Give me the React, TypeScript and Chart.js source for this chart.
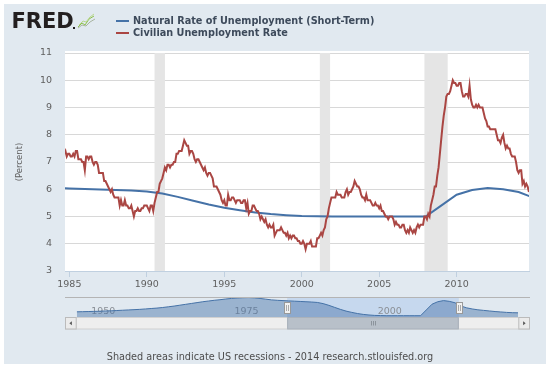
import React, { useEffect, useRef } from "react";
import { Chart, registerables } from "chart.js";

Chart.register(...registerables);
Chart.defaults.font.family = "'DejaVu Sans', Verdana, sans-serif";

// ---- data ----
const seriesNames = ["Natural Rate of Unemployment (Short-Term)", "Civilian Unemployment Rate"];
const seriesColors = ["#4572A7", "#AA4643"];

// Civilian unemployment rate, monthly, starting Sep 1984
const civilianStartYear = 1984;
const civilianStartMonth = 9;
const civilianUnemploymentRate = [
  7.3, 7.4, 7.2, 7.3,
  7.3, 7.2, 7.2, 7.3, 7.2, 7.4, 7.4, 7.1, 7.1, 7.1, 7.0, 7.0,
  6.7, 7.2, 7.2, 7.1, 7.2, 7.2, 7.0, 6.9, 7.0, 7.0, 6.9, 6.6,
  6.6, 6.6, 6.6, 6.3, 6.3, 6.2, 6.1, 6.0, 5.9, 6.0, 5.8, 5.7,
  5.7, 5.7, 5.7, 5.4, 5.6, 5.4, 5.4, 5.6, 5.4, 5.4, 5.3, 5.3,
  5.4, 5.2, 5.0, 5.2, 5.2, 5.3, 5.2, 5.2, 5.3, 5.3, 5.4, 5.4,
  5.4, 5.3, 5.2, 5.4, 5.4, 5.2, 5.5, 5.7, 5.9, 5.9, 6.2, 6.3,
  6.4, 6.6, 6.8, 6.7, 6.9, 6.9, 6.8, 6.9, 6.9, 7.0, 7.0, 7.3,
  7.3, 7.4, 7.4, 7.4, 7.6, 7.8, 7.7, 7.6, 7.6, 7.3, 7.4, 7.4,
  7.3, 7.1, 7.0, 7.1, 7.1, 7.0, 6.9, 6.8, 6.7, 6.8, 6.6, 6.5,
  6.6, 6.6, 6.5, 6.4, 6.1, 6.1, 6.1, 6.0, 5.9, 5.8, 5.6, 5.5,
  5.6, 5.4, 5.4, 5.8, 5.6, 5.6, 5.7, 5.7, 5.6, 5.5, 5.6, 5.6,
  5.6, 5.5, 5.5, 5.6, 5.6, 5.3, 5.5, 5.1, 5.2, 5.2, 5.4, 5.4,
  5.3, 5.2, 5.2, 5.1, 4.9, 5.0, 4.9, 4.8, 4.9, 4.7, 4.6, 4.7,
  4.6, 4.6, 4.7, 4.3, 4.4, 4.5, 4.5, 4.5, 4.6, 4.5, 4.4, 4.4,
  4.3, 4.4, 4.2, 4.3, 4.2, 4.3, 4.3, 4.2, 4.2, 4.1, 4.1, 4.0,
  4.0, 4.1, 4.0, 3.8, 4.0, 4.0, 4.0, 4.1, 3.9, 3.9, 3.9, 3.9,
  4.2, 4.2, 4.3, 4.4, 4.3, 4.5, 4.6, 4.9, 5.0, 5.3, 5.5, 5.7,
  5.7, 5.7, 5.7, 5.9, 5.8, 5.8, 5.8, 5.7, 5.7, 5.7, 5.9, 6.0,
  5.8, 5.9, 5.9, 6.0, 6.1, 6.3, 6.2, 6.1, 6.1, 6.0, 5.8, 5.7,
  5.7, 5.6, 5.8, 5.6, 5.6, 5.6, 5.5, 5.4, 5.4, 5.5, 5.4, 5.4,
  5.3, 5.4, 5.2, 5.2, 5.1, 5.0, 5.0, 4.9, 5.0, 5.0, 5.0, 4.9,
  4.7, 4.8, 4.7, 4.7, 4.6, 4.6, 4.7, 4.7, 4.5, 4.4, 4.5, 4.4,
  4.6, 4.5, 4.4, 4.5, 4.4, 4.6, 4.7, 4.6, 4.7, 4.7, 4.7, 5.0,
  5.0, 4.9, 5.1, 5.0, 5.4, 5.6, 5.8, 6.1, 6.1, 6.5, 6.8, 7.3,
  7.8, 8.3, 8.7, 9.0, 9.4, 9.5, 9.5, 9.6, 9.8, 10.0, 9.9, 9.9,
  9.8, 9.8, 9.9, 9.9, 9.6, 9.4, 9.4, 9.5, 9.5, 9.4, 9.8, 9.3,
  9.1, 9.0, 9.0, 9.1, 9.0, 9.1, 9.0, 9.0, 9.0, 8.8, 8.6, 8.5,
  8.3, 8.3, 8.2, 8.2, 8.2, 8.2, 8.2, 8.0, 7.8, 7.8, 7.7, 7.9,
  8.0, 7.7, 7.5, 7.6, 7.5, 7.5, 7.3, 7.2, 7.2, 7.2, 7.0, 6.7,
  6.6, 6.7, 6.7, 6.2, 6.3, 6.1, 6.2, 6.1, 5.9,
];

// Natural rate of unemployment (short-term), annual, starting 1948
const naturalStartYear = 1948;
const naturalRate = [
  5.27, 5.28, 5.29, 5.30, 5.31, 5.33, 5.34, 5.36, 5.38, 5.40, 5.42, 5.44,
  5.47, 5.50, 5.53, 5.57, 5.62, 5.67, 5.73, 5.79, 5.85, 5.91, 5.97, 6.02,
  6.07, 6.11, 6.16, 6.20, 6.23, 6.25, 6.26, 6.24, 6.20, 6.15, 6.10, 6.07,
  6.05, 6.03, 6.01, 5.99, 5.97, 5.95, 5.92, 5.84, 5.72, 5.58, 5.44, 5.32,
  5.23, 5.15, 5.09, 5.05, 5.02, 5.01, 5.00, 5.00, 5.00, 5.00, 5.00, 5.00,
  5.00, 5.40, 5.80, 5.97, 6.05, 6.00, 5.90, 5.68, 5.55, 5.47, 5.41, 5.37,
  5.33, 5.29, 5.26, 5.23, 5.21, 5.20,
];

const recessions: [number, number][] = [
  [1990.5, 1991.17],
  [2001.17, 2001.83],
  [2007.92, 2009.42],
];
const yearTicks = [1985, 1990, 1995, 2000, 2005, 2010];
const navYearLabels = [1950, 1975, 2000];
const viewStart = 1984.72;
const viewEnd = 2014.67;
const percentMin = 3;
const percentMax = 11;
const navMin = 1948;
const navMax = 2025;
const navRateMin = 4.91;
const navRateMax = 6.3;
const footerText = "Shaded areas indicate US recessions - 2014 research.stlouisfed.org";

const civilianPoints = civilianUnemploymentRate.map((v, i) => ({
  x: civilianStartYear + (civilianStartMonth - 1 + i) / 12,
  y: v,
}));
const naturalPoints = naturalRate.map((v, i) => ({ x: naturalStartYear + i, y: v }));

const PANEL = "#e1e9f0";

const shadePlugin = {
  id: "shade",
  beforeDatasetsDraw(chart: any) {
    const { ctx, chartArea, scales } = chart;
    ctx.save();
    ctx.fillStyle = "#e5e5e5";
    for (const [a, b] of recessions) {
      const x1 = scales.x.getPixelForValue(a);
      const x2 = scales.x.getPixelForValue(b);
      ctx.fillRect(x1, chartArea.top, x2 - x1, chartArea.bottom - chartArea.top);
    }
    ctx.restore();
  },
  beforeDraw(chart: any) {
    const { ctx, chartArea } = chart;
    ctx.save();
    ctx.fillStyle = "#ffffff";
    ctx.fillRect(chartArea.left, chartArea.top - 2, chartArea.right - chartArea.left, chartArea.bottom - chartArea.top + 2);
    ctx.restore();
  },
};

const navPlugin = {
  id: "nav",
  beforeDatasetsDraw(chart: any) {
    const { ctx, chartArea, scales } = chart;
    const x1 = scales.x.getPixelForValue(viewStart);
    const x2 = scales.x.getPixelForValue(viewEnd);
    ctx.save();
    ctx.fillStyle = "#c6d8ee";
    ctx.fillRect(x1, chartArea.top, x2 - x1, chartArea.bottom - chartArea.top);
    ctx.font = "9.5px 'DejaVu Sans'";
    ctx.fillStyle = "#8a8f96";
    ctx.textBaseline = "alphabetic";
    ctx.textAlign = "left";
    for (const y of navYearLabels) {
      ctx.fillText(String(y), scales.x.getPixelForValue(y) + 3, chartArea.bottom - 3.5);
    }
    ctx.restore();
  },
  afterDatasetsDraw(chart: any) {
    const { ctx, chartArea, scales } = chart;
    const x1 = scales.x.getPixelForValue(viewStart);
    const x2 = scales.x.getPixelForValue(viewEnd);
    const left = 65;
    const right = 530;
    const top = chartArea.top;
    const bottom = chartArea.bottom;
    ctx.save();
    // outline
    ctx.strokeStyle = "#b4b4b4";
    ctx.lineWidth = 1;
    ctx.beginPath();
    ctx.moveTo(left, top + 0.5);
    ctx.lineTo(right, top + 0.5);
    ctx.stroke();
    // scrollbar track
    const sy = bottom + 0.5;
    const sh = 11.5;
    ctx.fillStyle = "#eeeeee";
    ctx.fillRect(left, sy, right - left, sh);
    ctx.strokeStyle = "#d0d0d0";
    ctx.strokeRect(left + 0.5, sy, right - left - 1, sh);
    // thumb
    ctx.fillStyle = "#b8c0c9";
    ctx.fillRect(x1, sy, x2 - x1, sh);
    ctx.strokeStyle = "#a9b1ba";
    ctx.strokeRect(x1 + 0.5, sy, x2 - x1 - 1, sh);
    ctx.strokeStyle = "#8c949c";
    const cx = (x1 + x2) / 2;
    for (const d of [-2, 0, 2]) {
      ctx.beginPath();
      ctx.moveTo(Math.round(cx + d) + 0.5, sy + 3.5);
      ctx.lineTo(Math.round(cx + d) + 0.5, sy + 8);
      ctx.stroke();
    }
    // buttons
    const bw = 11.7;
    for (const [bx, dir] of [[left, -1], [right - bw, 1]] as [number, number][]) {
      ctx.fillStyle = "#ebebeb";
      ctx.fillRect(bx, sy, bw, sh);
      ctx.strokeStyle = "#bbbbbb";
      ctx.strokeRect(bx + 0.5, sy, bw - 1, sh);
      ctx.fillStyle = "#555555";
      const mx = bx + bw / 2;
      const my = sy + sh / 2;
      ctx.beginPath();
      ctx.moveTo(mx + dir * 1.5, my);
      ctx.lineTo(mx - dir * 1, my - 2);
      ctx.lineTo(mx - dir * 1, my + 2);
      ctx.closePath();
      ctx.fill();
    }
    // handles
    for (const hx of [x1, x2]) {
      const hxr = Math.round(hx);
      ctx.fillStyle = "#f2f2f2";
      ctx.fillRect(hxr - 3, top + 5.5, 6, 11);
      ctx.strokeStyle = "#999999";
      ctx.strokeRect(hxr - 2.5, top + 5.5, 6, 11);
      ctx.beginPath();
      ctx.moveTo(hxr - 0.5, top + 8);
      ctx.lineTo(hxr - 0.5, top + 14);
      ctx.moveTo(hxr + 1.5, top + 8);
      ctx.lineTo(hxr + 1.5, top + 14);
      ctx.strokeStyle = "#aaaaaa";
      ctx.stroke();
    }
    ctx.restore();
  },
};

export default function App() {
  const mainRef = useRef<HTMLCanvasElement>(null);
  const navRef = useRef<HTMLCanvasElement>(null);

  useEffect(() => {
    const main = new Chart(mainRef.current as HTMLCanvasElement, {
      type: "line",
      data: {
        datasets: [
          {
            label: seriesNames[0],
            data: naturalPoints,
            borderColor: seriesColors[0],
            borderWidth: 2,
            pointRadius: 0,
            fill: false,
            order: 1,
          },
          {
            label: seriesNames[1],
            data: civilianPoints,
            borderColor: seriesColors[1],
            borderWidth: 2,
            pointRadius: 0,
            fill: false,
            order: 0,
          },
        ],
      },
      options: {
        animation: false,
        responsive: false,
        maintainAspectRatio: false,
        layout: { padding: { top: 53, right: 21, left: 0, bottom: 0 } },
        plugins: { legend: { display: false }, tooltip: { enabled: false } },
        scales: {
          x: {
            type: "linear",
            min: viewStart,
            max: viewEnd,
            afterBuildTicks: (axis: any) => {
              axis.ticks = yearTicks.map((v) => ({ value: v }));
            },
            afterFit: (s: any) => {
              s.height = 29;
            },
            grid: { drawOnChartArea: false, drawTicks: true, tickLength: 6, color: "#c0d0e0" },
            border: { display: true, color: "#c0d0e0" },
            ticks: {
              color: "#606060",
              font: { size: 9.5 },
              padding: 2,
              maxRotation: 0,
              autoSkip: false,
              callback: (v: any) => String(v),
            },
          },
          y: {
            min: percentMin,
            max: percentMax,
            afterFit: (s: any) => {
              s.width = 65;
            },
            ticks: { stepSize: 1, color: "#606060", font: { size: 9.5 }, padding: 13 },
            grid: { color: "#d8d8d8", drawTicks: false },
            border: { display: false },
            title: {
              display: true,
              text: "(Percent)",
              color: "#606060",
              font: { size: 8.5 },
              padding: { top: 14.6, bottom: 0 },
            },
          },
        },
      } as any,
      plugins: [shadePlugin],
    });

    const nav = new Chart(navRef.current as HTMLCanvasElement, {
      type: "line",
      data: {
        datasets: [
          {
            data: naturalPoints,
            borderColor: seriesColors[0],
            borderWidth: 1,
            backgroundColor: "rgba(69,114,167,0.45)",
            fill: "start",
            pointRadius: 0,
          },
        ],
      },
      options: {
        animation: false,
        responsive: false,
        maintainAspectRatio: false,
        layout: { padding: { left: 76.7, right: 32, top: 7, bottom: 18 } },
        plugins: { legend: { display: false }, tooltip: { enabled: false } },
        scales: {
          x: { type: "linear", display: false, min: navMin, max: navMax },
          y: { display: false, min: navRateMin, max: navRateMax },
        },
      } as any,
      plugins: [navPlugin],
    });

    return () => {
      main.destroy();
      nav.destroy();
    };
  }, []);

  const textFont = "'DejaVu Sans', Verdana, sans-serif";

  return (
    <div style={{ position: "absolute", left: 0, top: 0, width: 550, height: 368, background: "#ffffff", overflow: "hidden" }}>
      <div style={{ position: "absolute", left: 4, top: 4, width: 542, height: 360, background: PANEL }} />
      <canvas ref={mainRef} width={550} height={300} style={{ position: "absolute", left: 0, top: 0, width: 550, height: 300 }} />
      <canvas ref={navRef} width={550} height={45} style={{ position: "absolute", left: 0, top: 290, width: 550, height: 45 }} />
      {/* logo */}
      <div
        style={{
          position: "absolute",
          left: 11.5,
          top: 10.8,
          fontFamily: textFont,
          fontWeight: 700,
          fontSize: 21,
          lineHeight: "21px",
          color: "#231f20",
          letterSpacing: 0,
          whiteSpace: "nowrap",
        }}
      >
        FRED
      </div>
      <div style={{ position: "absolute", left: 73, top: 26.5, width: 2, height: 2, background: "#231f20" }} />
      <svg style={{ position: "absolute", left: 77, top: 13 }} width={19} height={16} viewBox="0 0 19 16">
        <polyline points="1,14 5,10 8,12 12,6 17,3" fill="none" stroke="#8cc04b" strokeWidth={1} />
        <polyline points="1,15 5,12 9,13 13,9 18,6" fill="none" stroke="#a8b4a0" strokeWidth={1} />
        <polyline points="2,12 6,8 9,9 13,4 17,1" fill="none" stroke="#b9d88f" strokeWidth={1} />
      </svg>
      {/* legend */}
      {seriesNames.map((name, i) => (
        <React.Fragment key={name}>
          <div
            style={{
              position: "absolute",
              left: 116,
              top: 19.7 + i * 12,
              width: 12.5,
              height: 2,
              background: seriesColors[i],
            }}
          />
          <div
            style={{
              position: "absolute",
              left: 133,
              top: 14.7 + i * 12,
              fontFamily: textFont,
              fontWeight: 700,
              fontSize: 9.7,
              lineHeight: "12px",
              color: "#3d4a5b",
              whiteSpace: "nowrap",
            }}
          >
            {name}
          </div>
        </React.Fragment>
      ))}
      {/* footer */}
      <div
        style={{
          position: "absolute",
          left: 0,
          width: 540,
          top: 351,
          textAlign: "center",
          fontFamily: textFont,
          fontSize: 9.7,
          lineHeight: "12px",
          color: "#4d4d4d",
          whiteSpace: "nowrap",
        }}
      >
        {footerText}
      </div>
    </div>
  );
}
